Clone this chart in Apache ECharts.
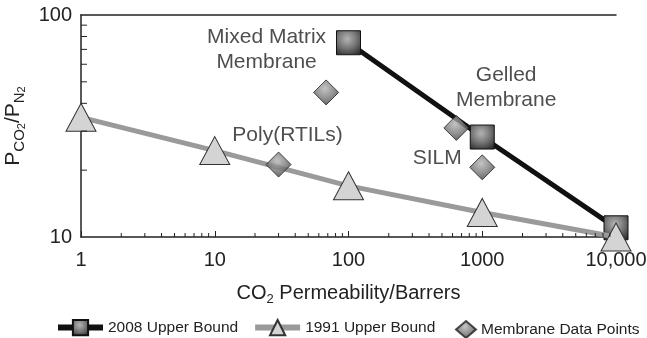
<!DOCTYPE html>
<html>
<head>
<meta charset="utf-8">
<script src="https://cdn.jsdelivr.net/npm/echarts@6/dist/echarts.min.js"></script>
<style>
html,body{margin:0;padding:0;background:#fff;}
#chart{width:647px;height:338px;}
</style>
</head>
<body>
<div id="chart"></div>
<script>
// ---- data ----
const bound2008X = [100, 1000, 10000];
const bound2008Y = [75, 28.2, 11];
const bound1991X = [1, 10, 100, 1000, 10000];
const bound1991Y = [34.6, 24.5, 17, 12.9, 10];
const membraneX = [30, 68, 640, 1000];
const membraneY = [21.2, 44.8, 31, 20.6];
const noteNames = ['Mixed Matrix\nMembrane', 'Gelled\nMembrane', 'Poly(RTILs)', 'SILM'];
const noteX = [24.4, 1510, 35, 461];
const noteY = [69.5, 46.9, 28.8, 22.7];
const xTickLabels = {1: '1', 10: '10', 100: '100', 1000: '1000', 10000: '10,000'};
const yTickLabels = {10: '10', 100: '100'};
const xMinorTicks = [2,3,4,5,6,7,8,9,20,30,40,50,60,70,80,90,200,300,400,500,600,700,800,900,2000,3000,4000,5000,6000,7000,8000,9000];
const yMinorTicks = [20,30,40,50,60,70,80,90];
const seriesNames = ['2008 Upper Bound', '1991 Upper Bound', 'Membrane Data Points'];

const pair = (xs, ys) => xs.map((x, i) => [x, ys[i]]);
const TXT = '#222';
const FONT = '"Liberation Sans", Arial, Helvetica, sans-serif';
const darkGrad = {
  type: 'radial', x: 0.45, y: 0.35, r: 0.75,
  colorStops: [{offset: 0, color: '#b4b4b4'}, {offset: 0.5, color: '#767676'}, {offset: 1, color: '#2c2c2c'}]
};

const chart = echarts.init(document.getElementById('chart'), null, {renderer: 'canvas'});

function tickSeries(name, data, horizontal, len) {
  return {
    name: name, type: 'custom', silent: true, clip: false, z: 5,
    data: data,
    renderItem: function (params, api) {
      const p = api.coord([api.value(0), api.value(1)]);
      return {
        type: 'line',
        shape: horizontal ? {x1: p[0], y1: p[1], x2: p[0] + len, y2: p[1]}
                          : {x1: p[0], y1: p[1], x2: p[0], y2: p[1] - len},
        style: {stroke: TXT, lineWidth: 1}
      };
    }
  };
}

const option = {
  animation: false,
  textStyle: {fontFamily: FONT},
  grid: {left: 81, right: 31, top: 15, bottom: 101, containLabel: false, outerBoundsMode: 'none'},
  legend: [{
    data: [seriesNames[0], seriesNames[1]],
    left: 50, top: 314, itemWidth: 45, itemHeight: 19, itemGap: 14,
    lineStyle: {width: 6},
    textStyle: {fontSize: 15.5, color: TXT, fontFamily: FONT}
  }, {
    data: [seriesNames[2]],
    left: 450, top: 315, itemWidth: 20, itemHeight: 17,
    textStyle: {fontSize: 15.5, color: TXT, fontFamily: FONT}
  }],
  xAxis: [{
    type: 'log', logBase: 10, min: 1, max: 10000, position: 'bottom',
    axisLine: {show: true, lineStyle: {color: TXT, width: 1.5}},
    axisTick: {show: true, inside: true, length: 6, lineStyle: {color: TXT}},
    axisLabel: {fontSize: 20, color: TXT, margin: 13, fontFamily: FONT,
      formatter: v => xTickLabels[Math.round(v)] || ''},
    splitLine: {show: false},
    name: '{a|CO}{s|2}{a| Permeability/Barrers}',
    nameLocation: 'middle', nameGap: 43,
    nameTextStyle: {
      color: TXT, fontFamily: FONT,
      rich: {
        a: {fontSize: 20, lineHeight: 26, color: TXT, fontFamily: FONT},
        s: {fontSize: 13, lineHeight: 13, verticalAlign: 'bottom', color: TXT, fontFamily: FONT}
      }
    }
  }, {
    type: 'log', logBase: 10, min: 1, max: 10000, position: 'top',
    axisLine: {show: true, lineStyle: {color: TXT, width: 1.5}},
    axisTick: {show: false}, axisLabel: {show: false}, splitLine: {show: false}
  }],
  yAxis: {
    type: 'log', logBase: 10, min: 10, max: 100,
    axisLine: {show: true, lineStyle: {color: TXT, width: 1.5}},
    axisTick: {show: false},
    axisLabel: {fontSize: 20, color: TXT, margin: 9, fontFamily: FONT,
      formatter: v => yTickLabels[Math.round(v)] || ''},
    splitLine: {show: false},
    name: '{a|P}{s|CO}{t|2}{a|/P}{s|N}{t|2}',
    nameLocation: 'middle', nameGap: 53, nameRotate: 90,
    nameTextStyle: {
      color: TXT, fontFamily: FONT,
      rich: {
        a: {fontSize: 21, lineHeight: 30, color: TXT, fontFamily: FONT},
        s: {fontSize: 15, lineHeight: 19, verticalAlign: 'bottom', color: TXT, fontFamily: FONT},
        t: {fontSize: 11, lineHeight: 12, verticalAlign: 'bottom', color: TXT, fontFamily: FONT}
      }
    }
  },
  series: [
    {
      name: seriesNames[1], type: 'line', z: 3,
      data: pair(bound1991X, bound1991Y),
      symbol: 'triangle', symbolSize: [30, 28],
      lineStyle: {color: '#9a9a9a', width: 5},
      itemStyle: {color: '#d4d4d4', borderColor: '#333', borderWidth: 1},
      emphasis: {disabled: true}
    },
    {
      name: seriesNames[0], type: 'line', z: 2,
      data: pair(bound2008X, bound2008Y),
      symbol: 'rect', symbolSize: 24,
      lineStyle: {color: '#111', width: 5},
      itemStyle: {color: darkGrad, borderColor: '#111', borderWidth: 1},
      emphasis: {disabled: true}
    },
    {
      name: seriesNames[2], type: 'scatter', z: 4,
      data: pair(membraneX, membraneY),
      symbol: 'diamond', symbolSize: 25,
      itemStyle: {color: darkGrad, borderColor: '#222', borderWidth: 1},
      emphasis: {disabled: true}
    },
    {
      name: 'notes', type: 'scatter', z: 6, silent: true,
      data: noteNames.map((n, i) => ({name: n, value: [noteX[i], noteY[i]]})),
      symbolSize: 0,
      label: {show: true, position: 'inside', formatter: p => p.name,
        fontSize: 21, lineHeight: 25, color: TXT, fontFamily: FONT}
    },
    tickSeries('xminor', xMinorTicks.map(v => [v, 10]), false, 4),
    tickSeries('yminor', yMinorTicks.map(v => [1, v]), true, 6)
  ]
};
chart.setOption(option);
</script>
</body>
</html>
